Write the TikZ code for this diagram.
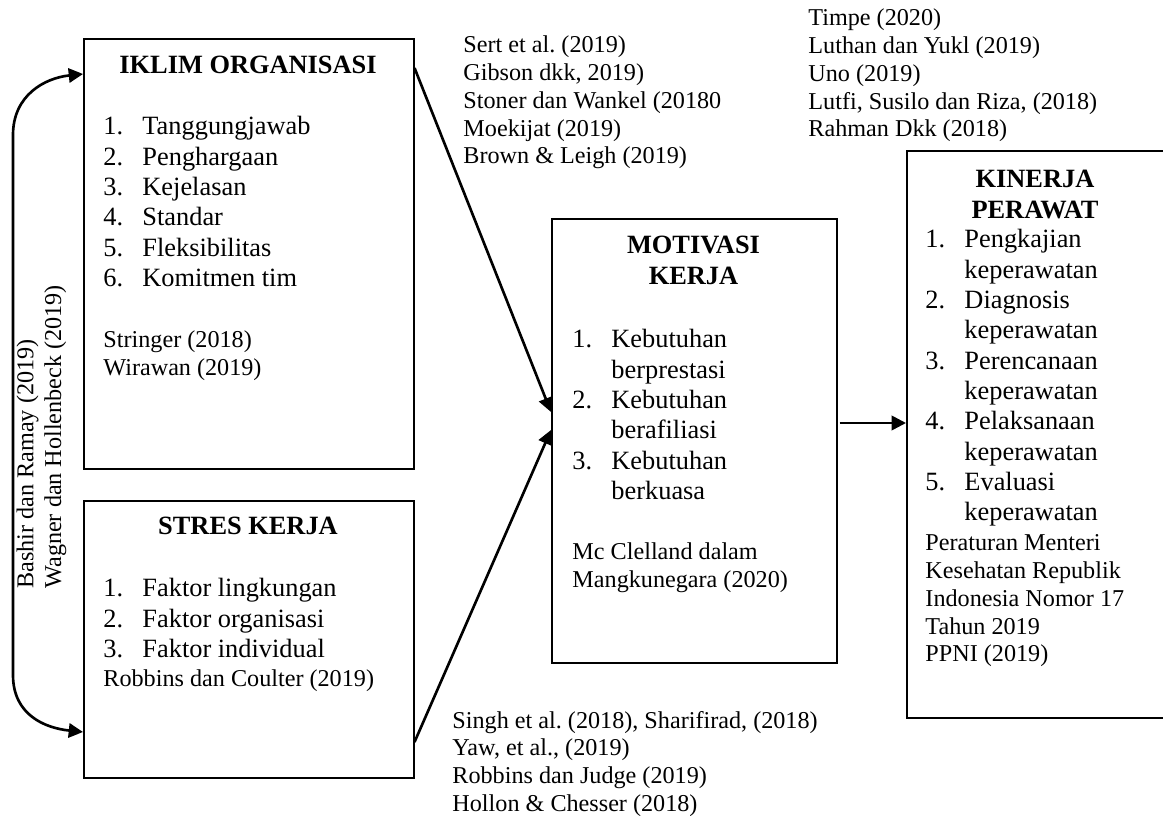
\documentclass[tikz,border=0pt]{standalone}
\usepackage{fontspec}
\setmainfont{Liberation Serif}
\usetikzlibrary{arrows.meta,calc}
\newlength{\pxu}
\setlength{\pxu}{0.455pt}
\frenchspacing

\begin{document}
\begin{tikzpicture}[x=\pxu,y=-\pxu,>={Triangle[length=6.5pt,width=6.5pt]},
    box/.style={draw,line width=0.7pt,inner sep=0pt,anchor=north west},
    head/.style={inner sep=0pt,anchor=base,font=\fontsize{12}{13.8}\selectfont\bfseries},
    items/.style={inner sep=0pt,anchor=base west,font=\fontsize{12}{13.8}\selectfont},
    refs/.style={inner sep=0pt,anchor=base west,font=\fontsize{11}{12.6}\selectfont},
    link/.style={->,line width=1.2pt}]

    \useasboundingbox (0,0) rectangle (1163,816);

    % boxes
    \node[box,minimum width=330\pxu,minimum height=430\pxu] (iklim) at (83,38) {};
    \node[box,minimum width=330\pxu,minimum height=277\pxu] (stres) at (83,500) {};
    \node[box,minimum width=285\pxu,minimum height=444\pxu] (motiv) at (551,218) {};
    \node[box,minimum width=260\pxu,minimum height=567\pxu] (kinerja) at (906,150) {};

    % iklim organisasi
    \node[head] (iklimhead) at (248,74) {IKLIM ORGANISASI};
    \node[items] (iklimlist) at (103,135) {\begin{tabular}[t]{@{}p{17.75pt}@{}l@{}}
        1.&Tanggungjawab\\ 2.&Penghargaan\\ 3.&Kejelasan\\
        4.&Standar\\ 5.&Fleksibilitas\\ 6.&Komitmen tim\end{tabular}};
    \node[refs] (iklimref) at (103,348) {\begin{tabular}[t]{@{}l@{}}
        Stringer (2018)\\ Wirawan (2019)\end{tabular}};

    % stres kerja
    \node[head] (streshead) at (248,535) {STRES KERJA};
    \node[items] (streslist) at (103,597) {\begin{tabular}[t]{@{}p{17.75pt}@{}l@{}}
        1.&Faktor lingkungan\\ 2.&Faktor organisasi\\ 3.&Faktor individual\end{tabular}};
    \node[refs] (stresref) at (103,687) {Robbins dan Coulter (2019)};

    % motivasi kerja
    \node[head] (motivhead) at (693.5,254) {\begin{tabular}[t]{@{}c@{}}MOTIVASI\\ KERJA\end{tabular}};
    \node[items] (motivlist) at (572,348) {\begin{tabular}[t]{@{}p{17.75pt}@{}l@{}}
        1.&Kebutuhan\\ &berprestasi\\ 2.&Kebutuhan\\ &berafiliasi\\
        3.&Kebutuhan\\ &berkuasa\end{tabular}};
    \node[refs] (motivref) at (572,560) {\begin{tabular}[t]{@{}l@{}}
        Mc Clelland dalam\\ Mangkunegara (2020)\end{tabular}};

    % kinerja perawat
    \node[head] (kinhead) at (1035,188) {\begin{tabular}[t]{@{}c@{}}KINERJA\\ PERAWAT\end{tabular}};
    \node[items] (kinlist) at (925,248) {\begin{tabular}[t]{@{}p{17.75pt}@{}l@{}}
        1.&Pengkajian\\ &keperawatan\\ 2.&Diagnosis\\ &keperawatan\\
        3.&Perencanaan\\ &keperawatan\\ 4.&Pelaksanaan\\ &keperawatan\\
        5.&Evaluasi\\ &keperawatan\end{tabular}};
    \node[refs] (kinref) at (925,551) {\begin{tabular}[t]{@{}l@{}}
        Peraturan Menteri\\ Kesehatan Republik\\ Indonesia Nomor 17\\
        Tahun 2019\\ PPNI (2019)\end{tabular}};

    % sources beside the links
    \node[refs] (srcmotiv) at (463,53) {\begin{tabular}[t]{@{}l@{}}
        Sert et al. (2019)\\ Gibson dkk, 2019)\\ Stoner dan Wankel (20180\\
        Moekijat (2019)\\ Brown \& Leigh (2019)\end{tabular}};
    \node[refs] (srckin) at (808,26) {\begin{tabular}[t]{@{}l@{}}
        Timpe (2020)\\ Luthan dan Yukl (2019)\\ Uno (2019)\\
        Lutfi, Susilo dan Riza, (2018)\\ Rahman Dkk (2018)\end{tabular}};
    \node[refs] (srcstres) at (452,728) {\begin{tabular}[t]{@{}l@{}}
        Singh et al. (2018), Sharifirad, (2018)\\ Yaw, et al., (2019)\\
        Robbins dan Judge (2019)\\ Hollon \& Chesser (2018)\end{tabular}};
    \node[refs,rotate=90,anchor=north west] (srcleft) at (13.5,589) {\begin{tabular}[t]{@{}l@{}}
        Bashir dan Ramay (2019)\\ Wagner dan Hollenbeck (2019)\end{tabular}};

    % links
    \draw[link] ($(iklim.north east)+(0,30)$) -- ($(motiv.north west)+(0,194)$);
    \draw[link] ($(stres.north east)+(0,242)$) -- ($(motiv.north west)+(0,212)$);
    \draw[link] ($(motiv.north east)+(2,205)$) -- ($(kinerja.north west)+(0,273)$);
    \draw[link,<->] ($(iklim.north west)+(0,36)$) .. controls (45,78) and (13,95) .. (13,135)
        -- (13,675) .. controls (13,715) and (45,728) .. ($(stres.north west)+(0,232)$);
\end{tikzpicture}
\end{document}
